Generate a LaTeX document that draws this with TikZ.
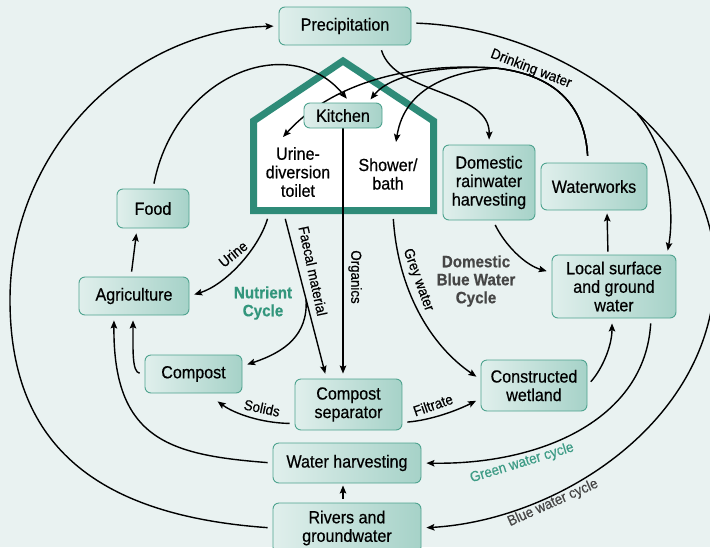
\documentclass[tikz,border=0pt]{standalone}
\usepackage{fontspec}
\setmainfont{Liberation Sans}[FakeStretch=0.92, FakeBold=0.5]
\usetikzlibrary{arrows.meta,calc}
\pgfdeclarelayer{back}
\pgfdeclarelayer{mid}
\pgfsetlayers{back,mid,main}
\definecolor{bgc}{RGB}{233,242,241}
\definecolor{boxl}{RGB}{224,239,236}
\definecolor{boxr}{RGB}{166,210,200}
\definecolor{boxb}{RGB}{78,163,143}
\definecolor{housec}{RGB}{46,139,120}
\definecolor{nutc}{RGB}{50,150,124}
\definecolor{greenc}{RGB}{62,156,134}
\definecolor{greyt}{RGB}{70,70,70}
\tikzset{
  box/.style={draw=boxb, line width=0.9pt, rounded corners=6pt, left color=boxl, right color=boxr,
    align=center, font=\fontsize{17.5}{18.5}\selectfont, inner sep=0pt},
  htext/.style={align=center, font=\fontsize{17.5}{18.5}\selectfont, inner sep=0pt},
  conn/.style={line width=1.4pt, -{Stealth[length=8pt,width=6.5pt,inset=1.5pt]}},
  gap/.style={shorten >=5pt, shorten <=5pt},
  lab/.style={font=\fontsize{14.5}{15}\selectfont, inner sep=0pt},
  cyc/.style={font=\bfseries\fontsize{16.5}{18}\selectfont, align=center, inner sep=0pt}
}
\begin{document}
\begin{tikzpicture}[x=1pt,y=1pt]
\begin{pgfonlayer}{back}
  \fill[bgc] (0,0) rectangle (710,-547);
  \draw[draw=housec, line width=7pt, fill=white, line join=miter]
    (253.5,-210.5) -- (253.5,-121) -- (343,-61) -- (433.5,-121) -- (433.5,-210.5) -- cycle;
\end{pgfonlayer}
\useasboundingbox (0,0) rectangle (710,-547);

% nodes
\node[box, minimum width=132pt, minimum height=38pt] (prec) at (345,-26) {Precipitation};
\node[box, minimum width=78pt, minimum height=25pt] (kitchen) at (343,-115.5) {Kitchen};
\node[htext] (toilet) at (298,-172) {Urine-\\diversion\\toilet};
\node[htext] (shower) at (388,-174) {Shower/\\bath};
\node[box, minimum width=92pt, minimum height=75pt] (rain) at (489,-182.5) {Domestic\\rainwater\\harvesting};
\node[box, minimum width=106pt, minimum height=47pt] (works) at (594,-186.5) {Waterworks};
\node[box, minimum width=124pt, minimum height=63pt] (local) at (614,-286.5) {Local surface\\and ground\\water};
\node[box, minimum width=72pt, minimum height=39pt] (food) at (153,-208.5) {Food};
\node[box, minimum width=110pt, minimum height=38pt] (agri) at (134,-296) {Agriculture};
\node[box, minimum width=97pt, minimum height=38pt] (compost) at (193.5,-374) {Compost};
\node[box, minimum width=107pt, minimum height=51pt] (sep) at (348.5,-404.5) {Compost\\separator};
\node[box, minimum width=106pt, minimum height=51pt] (wet) at (534,-385.5) {Constructed\\wetland};
\node[box, minimum width=148pt, minimum height=40pt] (wh) at (347,-463) {Water harvesting};
\node[box, minimum width=148pt, minimum height=50pt] (rivers) at (347,-528) {Rivers and\\groundwater};

% free ends
\coordinate (hU) at (269,-214);
\coordinate (hF) at (284,-214);
\coordinate (hG) at (393,-214);
\coordinate (tT) at (283,-137);
\coordinate (tS) at (396,-142);

% connectors
\begin{pgfonlayer}{mid}
  % outer left arc
  \draw[conn, gap] (rivers.west) .. controls (90,-515) and (10,-440) .. (10,-300)
     .. controls (10,-150) and (130,-30) .. (prec.west);
  % food -> kitchen
  \draw[conn, gap] (food.north) .. controls (175,-75) and (290,-30) .. ([xshift=7pt]kitchen.north);
  % agriculture -> food
  \draw[conn, gap] ([xshift=-3pt]agri.north) -- ([xshift=-16pt]food.south);
  % compost -> agriculture
  \draw[conn, gap] (compost.west) .. controls (132,-372) and (133,-350) .. ([xshift=-1pt]agri.south);
  % water harvesting -> agriculture
  \draw[conn, gap] (wh.west) .. controls (170,-455) and (113,-440) .. ([xshift=-20pt]agri.south);
  % urine
  \draw[conn, gap] (hU) .. controls (258,-250) and (225,-285) .. (agri.east);
  % faecal material
  \draw[conn, gap] (hF) -- coordinate[pos=0.52] (fb) ([xshift=-22pt]sep.north);
  \draw[conn, shorten >=5pt] (fb) .. controls (308,-335) and (285,-352) .. ([yshift=8pt]compost.east);
  % organics
  \draw[conn, shorten >=5pt] (kitchen.south) -- ([xshift=-5.5pt]sep.north);
  % grey water
  \draw[conn, gap] (hG) .. controls (398,-290) and (430,-345) .. ([yshift=6pt]wet.west);
  % solids
  \draw[conn, gap] ([yshift=-19pt]sep.west) .. controls (262,-423) and (235,-414) .. ([xshift=20pt,yshift=-5pt]compost.south);
  % filtrate
  \draw[conn, gap] ([yshift=-18pt]sep.east) .. controls (432,-420) and (458,-410) .. ([yshift=-13pt]wet.west);
  % rivers -> water harvesting
  \draw[conn, shorten >=2pt, shorten <=4pt] ([xshift=-4pt]rivers.north) -- ([xshift=-4pt]wh.south);
  % precipitation -> rainwater harvesting
  \draw[conn, gap] ([xshift=35pt]prec.south) .. controls (395,-95) and (490,-90) .. (rain.north);
  % drinking water
  \draw[conn, shorten <=7pt] ([xshift=-6pt]works.north) .. controls (585,-110) and (560,-75) .. (495,-68)
     .. controls (405,-62) and (330,-85) .. (tT);
  \draw[conn, shorten <=7pt, shorten >=4pt] ([xshift=-6pt]works.north) .. controls (585,-110) and (560,-75) .. (495,-68)
     .. controls (440,-65) and (390,-75) .. ([xshift=25pt]kitchen.north);
  \draw[conn, shorten <=7pt] ([xshift=-6pt]works.north) .. controls (585,-110) and (560,-75) .. (495,-68)
     .. controls (455,-72) and (405,-85) .. (tS);
  % blue water cycle (outer right arc)
  \draw[conn, gap] ([yshift=3pt]prec.east) .. controls (565,-28) and (715,-140) .. (715,-270)
     coordinate[pos=0.55] (bp)
     .. controls (715,-420) and (560,-520) .. (rivers.east);
  \draw[conn, shorten >=4pt] (bp) .. controls (668,-150) and (675,-210) .. ([xshift=53pt]local.north);
  % green water cycle
  \draw[conn, gap] ([xshift=37pt]local.south) .. controls (645,-420) and (540,-465) .. (wh.east);
  % rainwater harvesting -> local
  \draw[conn, gap] ([xshift=4pt]rain.south) .. controls (505,-245) and (525,-265) .. ([yshift=14pt]local.west);
  % local -> waterworks
  \draw[conn, shorten >=3pt, shorten <=3pt] ([xshift=-6pt]local.north) -- ([xshift=13pt]works.south);
  % wetland -> local
  \draw[conn, gap] (wet.east) .. controls (603,-368) and (612,-345) .. ([xshift=-2pt]local.south);
\end{pgfonlayer}

% labels
\node[lab, rotate=-21] (ldw) at (531,-69) {Drinking water};
\node[lab, rotate=39] (lur) at (233,-254) {Urine};
\node[lab, rotate=-78] (lfm) at (313,-271) {Faecal material};
\node[lab, rotate=-90] (lorg) at (355,-277) {Organics};
\node[lab, rotate=-70] (lgw) at (418,-280) {Grey water};
\node[lab, rotate=-12] (lsol) at (262,-408) {Solids};
\node[lab, rotate=19] (lfil) at (433,-405) {Filtrate};
\node[lab, rotate=17, text=greenc] (lgwc) at (522,-463) {Green water cycle};
\node[lab, rotate=24, text=greyt] (lbwc) at (553,-503) {Blue water cycle};
\node[cyc, text=nutc] (lnc) at (263,-303) {Nutrient\\Cycle};
\node[cyc, text=greyt] (ldb) at (476,-281) {Domestic\\Blue Water\\Cycle};
\end{tikzpicture}
\end{document}
